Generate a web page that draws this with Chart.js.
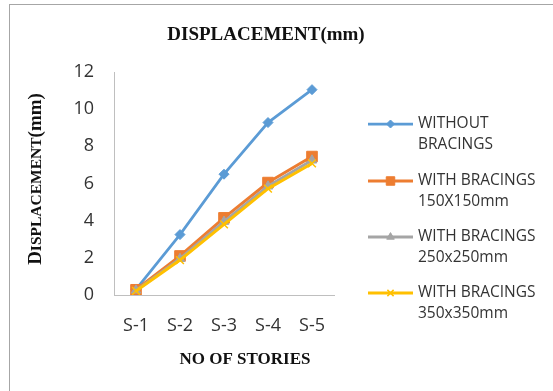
<!DOCTYPE html>
<html>
<head>
<meta charset="utf-8">
<script src="https://cdn.jsdelivr.net/npm/chart.js@4/dist/chart.umd.min.js"></script>
<style>
  html, body { margin: 0; padding: 0; background: #fff; }
  #wrap { position: relative; width: 553px; height: 391px; overflow: hidden; }
  #frame { position: absolute; left: 9px; top: 4px; width: 600px; height: 400px;
           border-left: 1px solid #a6a6a6; border-top: 1px solid #a6a6a6; }
  #chart { position: absolute; left: 0; top: 0; }
</style>
</head>
<body>
<div id="wrap">
  <div id="frame"></div>
  <canvas id="chart" width="553" height="391"></canvas>
</div>
<script>
const stories = ['S-1', 'S-2', 'S-3', 'S-4', 'S-5'];
const withoutBracings = [0.3, 3.25, 6.5, 9.28, 11.05];
const bracing150 = [0.28, 2.1, 4.15, 6.05, 7.45];
const bracing250 = [0.25, 1.95, 3.95, 5.85, 7.25];
const bracing350 = [0.22, 1.88, 3.8, 5.72, 7.08];
const legendLines = [
    ['WITHOUT', 'BRACINGS'],
    ['WITH BRACINGS', '150X150mm'],
    ['WITH BRACINGS', '250x250mm'],
    ['WITH BRACINGS', '350x350mm']
];

const tickFont = { family: 'Open Sans', size: 18 };
const serif = '"Liberation Serif", "DejaVu Serif", serif';

function series(data, color, style, radius, width, order) {
    return {
        data: data,
        borderColor: color,
        backgroundColor: color,
        pointBackgroundColor: color,
        pointBorderColor: color,
        pointStyle: style,
        pointRadius: radius,
        pointBorderWidth: style === 'crossRot' ? 1.5 : 1,
        borderWidth: width,
        tension: 0,
        order: order
    };
}

const datasets = [
    series(withoutBracings, '#5B9BD5', 'rectRot', 5, 2.75, 4),
    series(bracing150, '#ED7D31', 'rect', 7.5, 3, 3),
    series(bracing250, '#A5A5A5', 'triangle', 5.5, 3, 2),
    series(bracing350, '#FFC000', 'crossRot', 5.5, 3, 1)
];

// titles and the two-line legend on the right
const extras = {
    id: 'extras',
    afterDraw(chart) {
        const ctx = chart.ctx;
        ctx.save();
        ctx.fillStyle = '#111';
        ctx.textAlign = 'center';
        ctx.textBaseline = 'middle';
        ctx.font = 'bold 19px ' + serif;
        ctx.fillText('DISPLACEMENT(mm)', 266, 35);
        ctx.font = 'bold 17px ' + serif;
        ctx.fillText('NO OF STORIES', 245, 360);

        // rotated axis title with small caps look
        const parts = [['D', 19], ['ISPLACEMENT', 15.5], ['(mm)', 19]];
        let total = 0;
        parts.forEach(p => { ctx.font = 'bold ' + p[1] + 'px ' + serif; total += ctx.measureText(p[0]).width; });
        ctx.translate(34, 179);
        ctx.rotate(-Math.PI / 2);
        ctx.textAlign = 'left';
        ctx.textBaseline = 'alphabetic';
        let x = -total / 2;
        parts.forEach(p => {
            ctx.font = 'bold ' + p[1] + 'px ' + serif;
            ctx.fillText(p[0], x, 7);
            x += ctx.measureText(p[0]).width;
        });
        ctx.restore();

        ctx.save();
        const rows = [124, 181, 237, 293];
        chart.data.datasets.forEach((ds, i) => {
            const y = rows[i];
            ctx.strokeStyle = ds.borderColor;
            ctx.fillStyle = ds.borderColor;
            ctx.lineWidth = ds.borderWidth;
            ctx.beginPath();
            ctx.moveTo(368, y);
            ctx.lineTo(413, y);
            ctx.stroke();
            ctx.lineWidth = ds.pointBorderWidth;
            Chart.helpers.drawPoint(ctx, {
                pointStyle: ds.pointStyle,
                radius: ds.pointRadius * 0.8,
                rotation: 0,
                borderWidth: ds.pointBorderWidth
            }, 390.5, y);
            ctx.fillStyle = '#333';
            ctx.font = '15.5px "Open Sans"';
            ctx.textAlign = 'left';
            ctx.textBaseline = 'middle';
            ctx.fillText(legendLines[i][0], 418, y);
            ctx.fillText(legendLines[i][1], 418, y + 21);
        });
        ctx.restore();
    }
};

new Chart(document.getElementById('chart'), {
    type: 'line',
    data: { labels: stories, datasets: datasets },
    options: {
        responsive: false,
        animation: false,
        devicePixelRatio: 1,
        layout: { padding: { left: 0, right: 219, top: 72, bottom: 0 } },
        plugins: { legend: { display: false }, tooltip: { enabled: false } },
        scales: {
            x: {
                offset: true,
                grid: { display: false, drawTicks: false },
                border: { color: '#bfbfbf', width: 1 },
                ticks: { font: tickFont, color: '#333', padding: 20 },
                afterFit: s => { s.height = 96; }
            },
            y: {
                min: 0,
                max: 12,
                grid: { display: false, drawTicks: false },
                border: { color: '#bfbfbf', width: 1 },
                ticks: { stepSize: 2, font: tickFont, color: '#333', padding: 20 },
                afterFit: s => { s.width = 114; }
            }
        }
    },
    plugins: [extras]
});
</script>
</body>
</html>
